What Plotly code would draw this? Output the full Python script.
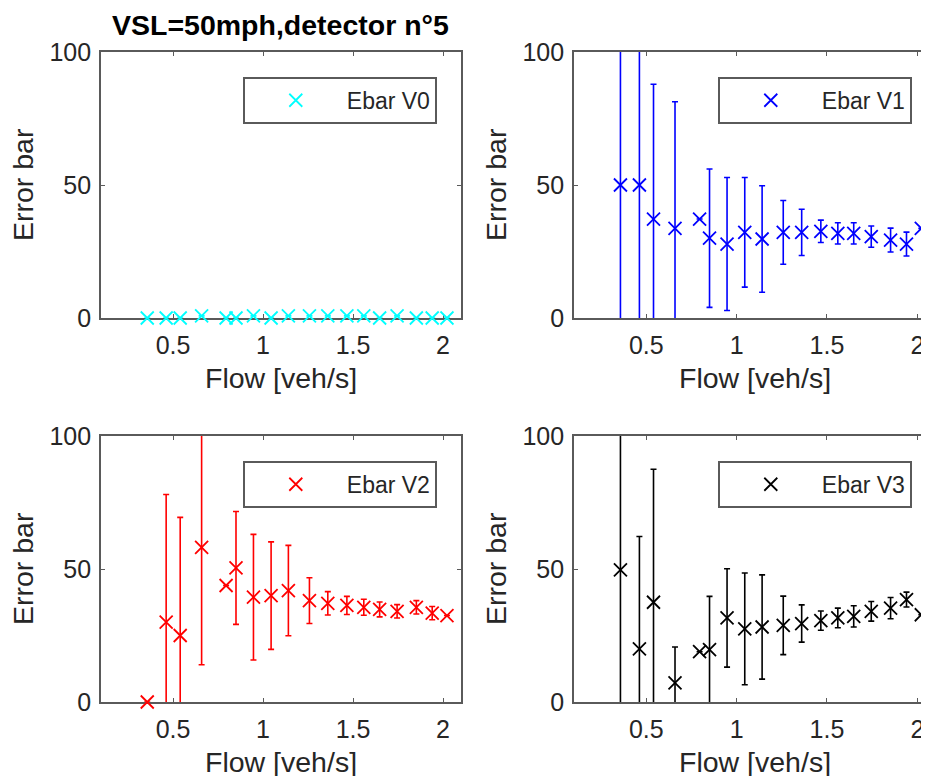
import plotly.graph_objects as go

# the page body has an 8px margin, so the figure is 8px smaller than the window
OFF = 8
W, H = 929 - OFF, 776 - OFF

flow = [0.357, 0.462, 0.54, 0.659, 0.795, 0.85, 0.947, 1.045, 1.141, 1.258,
        1.36, 1.466, 1.56, 1.648, 1.745, 1.852, 1.94, 2.022]

v0 = [0, 0, 0, 0.8, 0, 0, 0.8, 0, 0.8, 0.8,
      0.8, 0.8, 0.8, 0, 0.8, 0, 0, 0]
e0 = [0] * 18

v1 = [50, 50, 37.2, 33.7, 37.2, 30.0, 27.8, 32.2, 29.7, 32.2,
      32.2, 32.6, 31.8, 31.8, 30.6, 29.3, 27.8, 33.7]
e1 = [70, 70, 50.7, 47.6, 0, 26, 25, 20.6, 20, 12,
      8.7, 4.2, 4, 4, 4, 4.5, 4.5, 0]

v2 = [0, 30, 25, 58.1, 43.8, 50.4, 39.4, 40, 41.9, 38.1,
      37.1, 36.3, 35.6, 34.8, 34.1, 35.6, 33.4, 32.5]
e2 = [0, 48, 44.4, 44.1, 0, 21.2, 23.6, 20.2, 17, 8.6,
      4.4, 3.4, 3, 2.8, 2.5, 2.5, 2.5, 0]

v3 = [49.7, 20, 37.5, 7.2, 18.9, 19.7, 31.6, 27.5, 28.2, 28.8,
      29.5, 30.6, 31.6, 32.2, 34.1, 35.3, 38.5, 32.8]
e3 = [70, 42.2, 50, 13.5, 0, 20, 18.5, 21, 19.6, 11,
      7, 3.6, 3.7, 4, 3.7, 4, 2.8, 0]

series = [
    ("Ebar V0", v0, e0, "#00FFFF"),
    ("Ebar V1", v1, e1, "#0000FF"),
    ("Ebar V2", v2, e2, "#FF0000"),
    ("Ebar V3", v3, e3, "#000000"),
]

title_text = "VSL=50mph,detector n°5"
xlabel = "Flow [veh/s]"
ylabel = "Error bar"
xticks = [0.5, 1, 1.5, 2]
xticktext = ["0.5", "1", "1.5", "2"]
yticks = [0, 50, 100]

FONT = "Liberation Sans, Arial, Helvetica, sans-serif"
TXT = "#262626"
AX = "#5a5a5a"
TICK_FS = 25
LABEL_FS = 28.5
TITLE_FS = 28.5
LEG_FS = 23


def px(x):
    return (x - OFF) / W


def py(y):
    return 1 - (y - OFF) / H


# pixel layout (window coordinates) of the four axes boxes
LEFT = (101, 461)
RIGHT = (574, 929)
TOP = (52, 318)
BOT = (436, 702)
boxes = [(LEFT, TOP), (RIGHT, TOP), (LEFT, BOT), (RIGHT, BOT)]
xr_right = [0.1, 0.1 + (929 - 574) / 180.7]
xranges = [[0.1, 2.1], xr_right, [0.1, 2.1], xr_right]

fig = go.Figure()
layout = dict(
    width=W, height=H, autosize=False,
    margin=dict(l=0, r=0, t=0, b=0, autoexpand=False),
    paper_bgcolor="white", plot_bgcolor="white",
    font=dict(family=FONT, color=TXT),
    showlegend=True,
)
annotations = []

for i, ((name, vals, errs, col), ((x0, x1), (y0, y1))) in enumerate(zip(series, boxes)):
    k = "" if i == 0 else str(i + 1)
    xa, ya = "x" + k, "y" + k
    leg = "legend" + k
    # error bars (clipped to axes)
    fig.add_trace(go.Scatter(
        x=flow, y=vals, mode="markers", xaxis=xa, yaxis=ya,
        marker=dict(size=1, color="rgba(0,0,0,0)"),
        error_y=dict(type="data", array=errs, visible=True, color=col,
                     thickness=1.6, width=3),
        showlegend=False, hoverinfo="skip", cliponaxis=True,
    ))
    fig.add_trace(go.Scatter(
        x=flow, y=vals, mode="markers", xaxis=xa, yaxis=ya, name=name,
        marker=dict(symbol="x-thin", size=13, color=col,
                    line=dict(color=col, width=1.8)),
        cliponaxis=False, legend=leg,
    ))
    right_col = i in (1, 3)
    layout["xaxis" + k] = dict(
        domain=[px(x0), min(1.0, px(x1))], anchor=ya, range=xranges[i],
        tickvals=xticks, ticktext=xticktext, automargin=False,
        showline=True, linecolor=AX, linewidth=1.8, mirror="ticks",
        ticks="inside", ticklen=4, tickwidth=1, tickcolor=AX,
        showgrid=False, zeroline=False, layer="below traces",
        tickfont=dict(size=TICK_FS, color=TXT, family=FONT), ticklabelstandoff=4,
    )
    layout["yaxis" + k] = dict(
        domain=[py(y1), py(y0)], anchor=xa, range=[0, 100],
        tickvals=yticks, automargin=False,
        showline=True, linecolor=AX, linewidth=1.8,
        mirror=False if right_col else "ticks",
        ticks="inside", ticklen=4, tickwidth=1, tickcolor=AX,
        showgrid=False, zeroline=False, layer="below traces",
        tickfont=dict(size=TICK_FS, color=TXT, family=FONT), ticklabelstandoff=3,
    )
    lx = 243 if not right_col else 718
    ly = y0 + 25
    layout[leg] = dict(
        x=px(lx), y=py(ly), xanchor="left", yanchor="top",
        xref="paper", yref="paper",
        bgcolor="white", bordercolor=AX, borderwidth=1.8,
        font=dict(size=LEG_FS, color=TXT, family=FONT), itemwidth=92,
    )
    cx = (x0 + (936 if right_col else x1)) / 2
    annotations.append(dict(
        text=xlabel, x=px(cx), y=py(y1 + 60), xref="paper", yref="paper",
        xanchor="center", yanchor="middle", showarrow=False,
        font=dict(size=LABEL_FS, color=TXT, family=FONT),
    ))
    annotations.append(dict(
        text=ylabel, x=px(x0 - 78), y=py((y0 + y1) / 2), xref="paper", yref="paper",
        xanchor="center", yanchor="middle", showarrow=False, textangle=-90,
        font=dict(size=LABEL_FS, color=TXT, family=FONT),
    ))

annotations.append(dict(
    text="<b>" + title_text + "</b>", x=px(280), y=py(25), xref="paper", yref="paper",
    xanchor="center", yanchor="middle", showarrow=False,
    font=dict(size=TITLE_FS, color="#000000", family=FONT),
))
layout["annotations"] = annotations
fig.update_layout(**layout)
fig.write_html("out.html")
